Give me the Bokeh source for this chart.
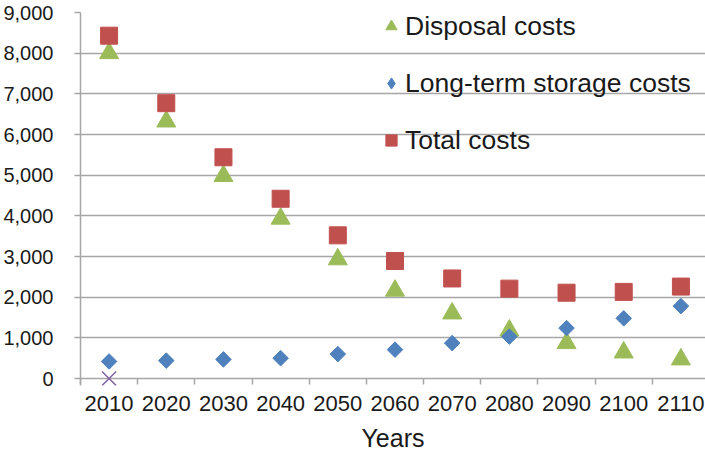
import numpy as np
from bokeh.plotting import figure
from bokeh.models import FixedTicker, NumeralTickFormatter, Range1d, Legend, LegendItem
from bokeh.embed import file_html
from bokeh.resources import INLINE

years = [2010, 2020, 2030, 2040, 2050, 2060, 2070, 2080, 2090, 2100, 2110]
disposal = [8000, 6320, 4980, 3930, 2930, 2160, 1600, 1180, 870, 640, 470]
long_term = [420, 440, 470, 500, 600, 710, 870, 1030, 1240, 1480, 1780]
total = [8430, 6770, 5440, 4420, 3520, 2890, 2460, 2210, 2110, 2130, 2260]
other_years = [2010]
other = [0]
y_ticks = [0, 1000, 2000, 3000, 4000, 5000, 6000, 7000, 8000, 9000]
x_title = "Years"

FONT = "Liberation Sans"
GRID = "#a6a6a6"
TEXT = "#1a1a1a"

p = figure(width=705, height=462, output_backend="svg", toolbar_location=None,
           x_range=Range1d(2005, 2114.3), y_range=Range1d(-172, 9000),
           min_border_left=80, min_border_right=0, min_border_top=12, min_border_bottom=77)
p.outline_line_color = None
p.background_fill_color = "white"

boundaries = [y - 5 for y in years] + [years[-1] + 5]
p.xaxis.ticker = FixedTicker(ticks=years, minor_ticks=boundaries)
p.xaxis.major_tick_line_color = None
p.xaxis.major_tick_out = 0
p.xaxis.major_tick_in = 0
p.xaxis.minor_tick_line_color = GRID
p.xaxis.minor_tick_in = 7
p.xaxis.minor_tick_out = -1
p.xaxis.minor_tick_line_width = 1.5
p.xaxis.axis_line_color = None
p.xaxis.major_label_standoff = 10
p.xaxis.major_label_text_font = FONT
p.xaxis.major_label_text_font_size = "22px"
p.xaxis.major_label_text_color = TEXT
p.xaxis.axis_label = x_title
p.xaxis.axis_label_text_font = FONT
p.xaxis.axis_label_text_font_size = "25px"
p.xaxis.axis_label_text_font_style = "normal"
p.xaxis.axis_label_text_color = TEXT
p.xaxis.axis_label_standoff = 10

p.yaxis.ticker = FixedTicker(ticks=y_ticks)
p.yaxis.formatter = NumeralTickFormatter(format="0,0")
p.yaxis.minor_tick_line_color = None
p.yaxis.major_tick_line_color = GRID
p.yaxis.major_tick_out = 6
p.yaxis.major_tick_in = 0
p.yaxis.major_tick_line_width = 1.5
p.yaxis.axis_line_color = GRID
p.yaxis.axis_line_width = 1.5
p.yaxis.major_label_standoff = 21
p.yaxis.major_label_text_font = FONT
p.yaxis.major_label_text_font_size = "20px"
p.yaxis.major_label_text_color = TEXT

p.xgrid.grid_line_color = None
p.ygrid.grid_line_color = GRID
p.ygrid.grid_line_width = 1.5

r_disp = p.scatter(years, disposal, marker="triangle", size=19,
                   fill_color="#9BBB59", line_color="#9BBB59")
r_lt = p.scatter(years, long_term, marker="square", angle=np.pi / 4, size=11,
                 fill_color="#4F81BD", line_color="#4F81BD")
r_tot = p.scatter(years, total, marker="square", size=17,
                  fill_color="#C0504D", line_color="#C0504D")
r_other = p.scatter(other_years, other, marker="x", size=20, line_color="#8064A2", line_width=1.5)
# legend-only glyph for the diamond shape (hidden in the plot)
r_lt_key = p.scatter(years, long_term, marker="diamond", size=17,
                     fill_color="#4F81BD", line_color="#4F81BD", visible=False)

legend = Legend(items=[
    LegendItem(label="Disposal costs", renderers=[r_disp]),
    LegendItem(label="Long-term storage costs", renderers=[r_lt_key]),
    LegendItem(label="Total costs", renderers=[r_tot]),
], location=(297, 225))
legend.background_fill_alpha = 0
legend.border_line_color = None
legend.inactive_fill_alpha = 0
legend.label_text_font = FONT
legend.label_text_font_size = "26.5px"
legend.label_text_color = TEXT
legend.glyph_width = 28
legend.glyph_height = 40
legend.label_standoff = 0
legend.label_height = 30
legend.spacing = 17
legend.padding = 0
legend.margin = 0
p.add_layout(legend)

open("out.html", "w").write(file_html(p, INLINE))
